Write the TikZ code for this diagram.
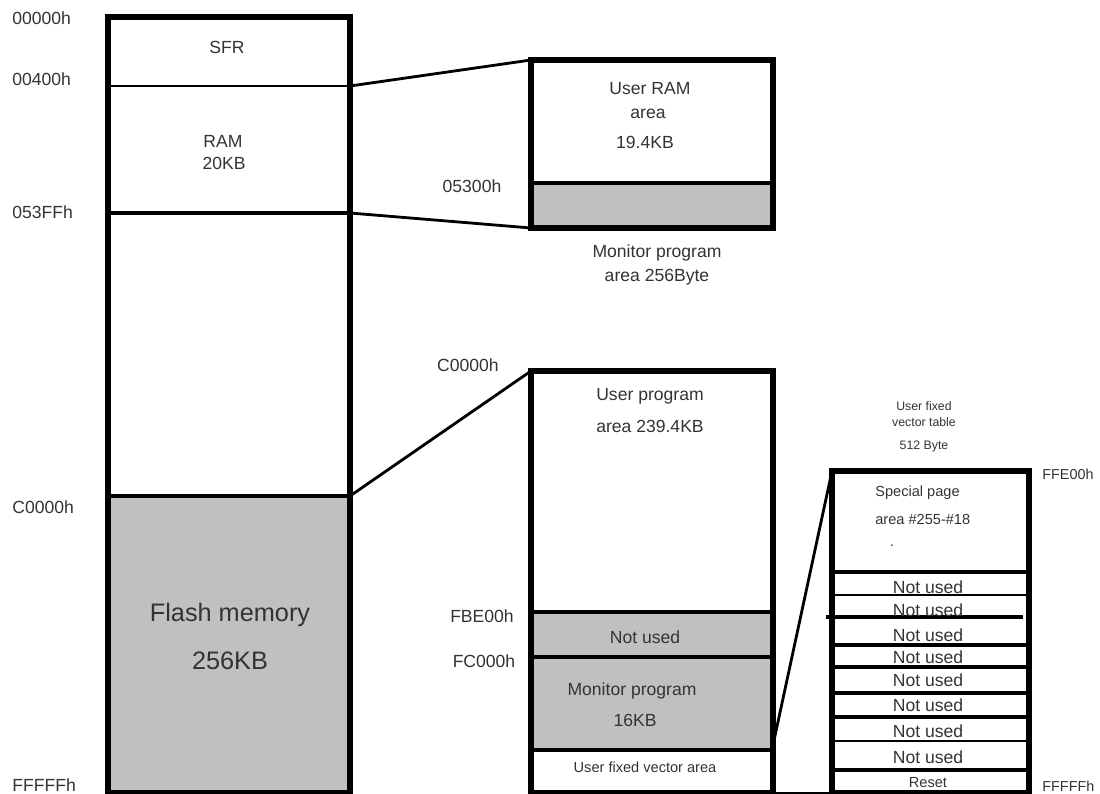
\documentclass[tikz,border=0pt]{standalone}
\usepackage{fontspec}
\setmainfont{Liberation Sans}
\usetikzlibrary{positioning}
\definecolor{memgray}{HTML}{C0C0C0}
\definecolor{ink}{HTML}{333333}
\tikzset{
  frame/.style={draw=black,line width=3.6pt},
  septhick/.style={draw=black,line width=2.8pt},
  sepmid/.style={draw=black,line width=1.8pt},
  septhin/.style={draw=black,line width=1.1pt},
  link/.style={draw=black,line width=1.6pt},
  shade/.style={fill=memgray},
  addr/.style={font=\fontsize{10}{12}\selectfont,text=ink,inner sep=0pt},
  addrsmall/.style={font=\fontsize{8.2}{10}\selectfont,text=ink,inner sep=0pt},
  area/.style={font=\fontsize{10}{12}\selectfont,text=ink,inner sep=0pt},
  big/.style={font=\fontsize{14.4}{17}\selectfont,text=ink,inner sep=0pt},
  small/.style={font=\fontsize{8.3}{10}\selectfont,text=ink,inner sep=0pt},
  tiny/.style={font=\fontsize{7}{8.4}\selectfont,text=ink,inner sep=0pt}
}
\begin{document}
\begin{tikzpicture}[x=0.02cm,y=-0.02cm]
\useasboundingbox (0,0) rectangle (1100,794);
% whole map
\fill[shade] (108,496) rectangle (350,793);
\draw[septhin] (108,86) -- (350,86);
\draw[sepmid] (108,213) -- (350,213);
\draw[sepmid] (108,496) -- (350,496);
\draw[frame] (108,17) rectangle (350,793);
\coordinate (sfrend) at (350,86); \coordinate (ramend) at (350,213); \coordinate (flashtop) at (350,496);
\node[addr,anchor=west] (a00000) at (12,18) {00000h};
\node[addr,anchor=west] (a00400) at (12,79) {00400h};
\node[addr,anchor=west] (a053ff) at (12,212) {053FFh};
\node[addr,anchor=west] (ac0000) at (12,507) {C0000h};
\node[addr,anchor=west] (affff) at (12,785) {FFFFFh};
\node[area] (sfr) at (227,47) {SFR};
\node[area] (ram) at (223,141) {RAM};
\node[area] (ramsize) at (224,163) {20KB};
\node[big] (flash) at (230,615) {Flash memory};
\node[big] (flashsize) at (230,661) {256KB};
% RAM detail
\fill[shade] (531,183) rectangle (773,228);
\draw[septhick] (531,183) -- (773,183);
\draw[frame] (531,60) rectangle (773,228);
\coordinate (uramNW) at (531,60); \coordinate (uramSW) at (531,228);
\node[area] (uram) at (650,89) {User RAM};
\node[area] (uramb) at (648,114) {area};
\node[area] (uramsize) at (645,142) {19.4KB};
\node[addr] (a05300) at (472,186) {05300h};
\node[area] (mon) at (657,253) {Monitor program};
\node[area] (monsize) at (657,277) {area 256Byte};
% flash detail
\fill[shade] (531,612) rectangle (773,750);
\draw[septhick] (531,612) -- (773,612);
\draw[septhick] (531,657) -- (773,657);
\draw[sepmid] (531,750) -- (773,750);
\draw[frame] (531,371) rectangle (773,793);
\coordinate (uprogNW) at (531,371); \coordinate (monE) at (773,745); \coordinate (uprogSE) at (773,793);
\node[addr] (bc0000) at (468,365) {C0000h};
\node[addr] (afbe00) at (482,616) {FBE00h};
\node[addr] (afc000) at (484,661) {FC000h};
\node[area] (uprog) at (650,396) {User program};
\node[area] (uprogsize) at (650,426) {area 239.4KB};
\node[area] (notused) at (645,637) {Not used};
\node[area] (monprog) at (632,691) {Monitor program};
\node[area] (monprogsize) at (635,720) {16KB};
\node[small] (ufva) at (645,767) {User fixed vector area};
% vector table
\draw[frame] (832,471) rectangle (1029,793);
\foreach \y/\w in {572/septhick,595/septhin,645/sepmid,667/septhick,693/septhick,717/septhick,741/septhin,770/sepmid}
  \draw[\w] (832,\y) -- (1029,\y);
\draw[septhick] (826,617) -- (1023,617);
\coordinate (vecNW) at (832,471); \coordinate (vecSW) at (832,793);
\node[tiny] (uft) at (924,406) {User fixed};
\node[tiny] (uftb) at (924,422) {vector table};
\node[tiny] (uftsize) at (924,446) {512 Byte};
\node[addrsmall,anchor=west] (affe00) at (1042,474) {FFE00h};
\node[addrsmall,anchor=west] (bffff) at (1042,786) {FFFFFh};
\node[small,anchor=west] (spp) at (875,493) {Special page};
\node[small,anchor=west] (sppb) at (875,519) {area \#255-\#18};
\node[small] (sppdot) at (892,546) {.};
\foreach \y [count=\i] in {587,610,635,657,680,705,731,757}
  \node[area] (nu\i) at (928,\y) {Not used};
\node[small] (reset) at (928,783) {Reset};
% connectors
\draw[link] (sfrend) -- (uramNW);
\draw[link] (ramend) -- (uramSW);
\draw[link] (flashtop) -- (uprogNW);
\draw[link] (monE) -- (vecNW);
\draw[link] (uprogSE) -- (vecSW);
\end{tikzpicture}
\end{document}
